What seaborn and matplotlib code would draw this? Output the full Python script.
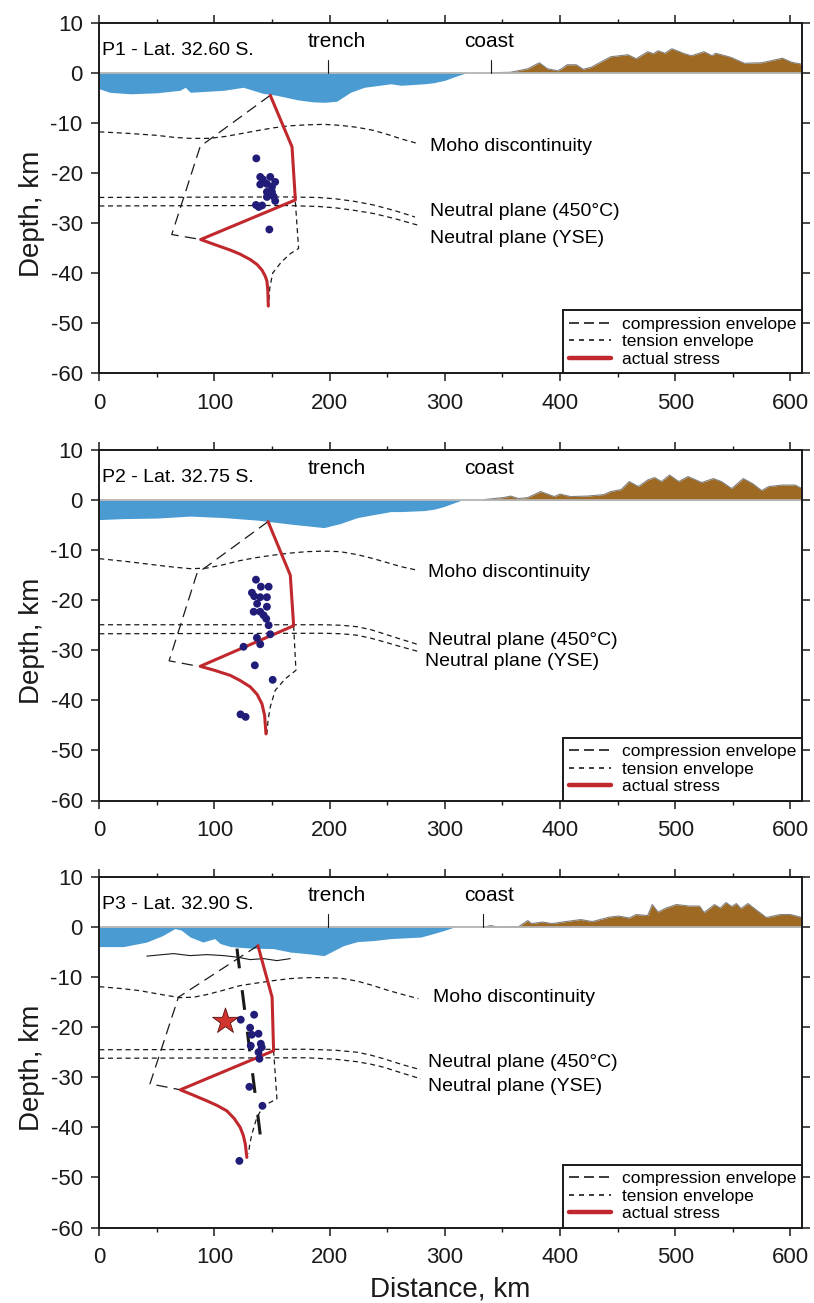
import numpy as np
import pandas as pd
import matplotlib
matplotlib.use("Agg")
import matplotlib.pyplot as plt
from matplotlib.lines import Line2D
from matplotlib.ticker import MultipleLocator
import seaborn as sns

# ---------------- profile P1 ----------------
P1_TITLE = "P1 - Lat. 32.60 S."
P1_SEA_KM = [0, 9, 27, 50, 70, 74.6, 79, 108, 125, 142, 154, 172, 185, 195, 206, 212, 218,
             230, 253, 262, 282, 290, 300, 307, 312, 319]
P1_SEA_Z = [-3.2, -3.9, -4.2, -4.0, -3.5, -2.9, -3.9, -3.5, -2.9, -4.1, -4.5, -5.4, -5.8, -5.9,
            -5.7, -4.8, -3.9, -2.9, -2.2, -2.5, -2.2, -2.0, -1.5, -0.9, -0.5, 0]
P1_LAND_KM = [340, 357, 372, 382, 389, 398, 402, 406, 414, 420, 427, 435, 444, 459, 466, 476,
              481, 485, 491, 497, 508, 514, 525, 532, 535, 548, 560, 575, 583, 593, 601, 610]
P1_LAND_H = [0, 0.1, 0.8, 2.0, 0.8, 0.4, 0.9, 1.6, 1.6, 0.7, 1.1, 2.1, 3.2, 3.6, 2.8, 4.2,
             3.8, 4.4, 3.9, 4.8, 3.8, 3.4, 4.2, 3.4, 3.9, 3.1, 1.9, 2.0, 2.4, 2.9, 2.1, 1.7]
P1_MOHO_KM = [0, 25, 50, 65, 79, 96, 110, 122, 136, 151, 165, 180, 195, 209, 224, 238, 250,
              262, 276]
P1_MOHO_Z = [-11.8, -12.1, -12.5, -12.9, -13.1, -13.1, -12.7, -12.2, -11.6, -11.0, -10.6,
             -10.4, -10.3, -10.5, -10.9, -11.5, -12.3, -13.2, -14.1]
P1_NP450_KM = [0, 160, 190, 206, 222, 238, 256, 274]
P1_NP450_Z = [-24.9, -24.8, -24.9, -25.2, -25.7, -26.4, -27.5, -28.8]
P1_NPYSE_KM = [0, 160, 190, 206, 222, 238, 256, 276]
P1_NPYSE_Z = [-26.6, -26.5, -26.7, -27.0, -27.5, -28.1, -29.1, -30.4]
P1_COMP_KM = [148.4, 87.6, 62.9, 88.0]
P1_COMP_Z = [-4.5, -14.7, -32.3, -33.3]
P1_TENS_KM = [170.2, 173.0, 166.0, 158.0, 150.5, 148.0, 147.0]
P1_TENS_Z = [-25.8, -35.1, -36.1, -37.8, -40.0, -43.0, -46.4]
P1_STRESS_KM = [148.4, 167.3, 170.2, 88.0, 100.0, 113.6, 122.0, 131.0, 137.0, 141.2, 144.0,
                145.5, 146.3, 146.7]
P1_STRESS_Z = [-4.5, -14.8, -25.4, -33.3, -34.3, -35.4, -36.2, -37.3, -38.3, -39.4, -40.6,
               -41.6, -43.5, -46.6]
P1_EQ_KM = [136.3, 139.7, 148.4, 142.0, 152.7, 139.7, 145.5, 149.9, 145.5, 149.9, 145.5,
            151.3, 152.7, 136.0, 138.4, 141.3, 147.6]
P1_EQ_Z = [-17.1, -20.8, -20.8, -21.3, -21.8, -22.3, -22.2, -22.8, -23.8, -23.8, -24.8,
           -24.7, -25.6, -26.4, -26.8, -26.5, -31.3]
P1_TRENCH_TICK = 198.3
P1_COAST_TICK = 340.0
P1_LABEL_KM = [287, 287, 287]
P1_LABEL_Z = [-14.8, -27.8, -33.0]

# ---------------- profile P2 ----------------
P2_TITLE = "P2 - Lat. 32.75 S."
P2_SEA_KM = [0, 21, 50, 79, 108, 137, 166, 195, 209, 224, 253, 262, 282, 291, 299, 311, 315]
P2_SEA_Z = [-3.9, -3.7, -3.6, -3.2, -3.5, -4.0, -4.8, -5.5, -4.7, -3.5, -2.3, -2.3, -2.1,
            -1.8, -1.3, -0.3, 0]
P2_LAND_KM = [334, 351, 357, 364, 372, 383, 395, 400, 409, 424, 438, 444, 453, 460, 468, 476,
              482, 488, 495, 503, 511, 523, 533, 540, 549, 559, 567, 575, 581, 593, 604, 610]
P2_LAND_H = [0.1, 0.5, 0.8, 0.3, 0.5, 1.7, 0.7, 1.2, 0.7, 0.8, 1.1, 1.7, 2.1, 3.7, 2.7, 4.0,
             4.5, 3.7, 5.0, 3.7, 4.7, 3.5, 4.3, 3.7, 2.3, 4.3, 3.3, 1.9, 2.7, 3.0, 3.0, 2.3]
P2_MOHO_KM = [0, 25, 50, 65, 79, 93, 108, 122, 136, 151, 165, 180, 195, 209, 224, 238, 250,
              262, 276]
P2_MOHO_Z = [-11.7, -12.3, -13.0, -13.4, -13.7, -13.6, -12.9, -12.1, -11.5, -11.0, -10.6,
             -10.3, -10.2, -10.3, -10.9, -11.7, -12.5, -13.3, -14.0]
P2_NP450_KM = [0, 195, 210, 224, 236, 247, 262, 276]
P2_NP450_Z = [-24.9, -24.9, -25.0, -25.3, -25.9, -26.7, -27.8, -28.8]
P2_NPYSE_KM = [0, 195, 210, 224, 236, 247, 262, 278]
P2_NPYSE_Z = [-26.7, -26.6, -26.7, -27.0, -27.6, -28.3, -29.3, -30.3]
P2_COMP_KM = [146.5, 84.7, 60.6, 86.0]
P2_COMP_Z = [-4.3, -14.7, -32.1, -33.2]
P2_TENS_KM = [168.7, 170.7, 161.4, 152.7, 148.4, 146.5, 145.5]
P2_TENS_Z = [-25.1, -34.0, -35.7, -38.0, -41.3, -44.0, -46.7]
P2_STRESS_KM = [146.5, 165.8, 168.7, 87.6, 100.0, 113.6, 122.0, 131.0, 137.0, 141.2, 143.5,
                144.7]
P2_STRESS_Z = [-4.3, -15.0, -25.1, -33.2, -34.0, -35.0, -36.0, -37.3, -38.8, -40.7, -43.0,
               -46.7]
P2_EQ_KM = [136.0, 140.3, 147.0, 132.5, 134.5, 139.7, 145.5, 137.0, 145.5, 134.0, 139.7,
            142.6, 144.9, 147.0, 148.4, 136.8, 139.7, 125.2, 135.0, 150.5, 122.6, 127.0]
P2_EQ_Z = [-15.9, -17.3, -17.3, -18.5, -19.2, -19.4, -19.4, -20.7, -21.3, -22.3, -22.3,
           -23.0, -23.7, -25.0, -26.8, -27.5, -28.8, -29.3, -33.0, -35.9, -42.8, -43.3]
P2_LABEL_KM = [285, 285, 283]
P2_LABEL_Z = [-14.5, -28.0, -32.2]

# ---------------- profile P3 ----------------
P3_TITLE = "P3 - Lat. 32.90 S."
P3_SEA_KM = [0, 21, 41, 55, 65.6, 71, 79, 90, 100, 105, 114, 131, 151, 166, 180, 195, 201,
             212, 224, 238, 253, 279, 290, 299, 308]
P3_SEA_Z = [-3.9, -3.9, -3.0, -1.7, -0.3, -0.6, -2.0, -3.0, -2.3, -3.3, -3.9, -4.2, -4.3,
            -5.0, -5.3, -5.7, -5.0, -3.7, -2.9, -2.7, -2.3, -2.0, -1.3, -0.7, 0]
P3_LAND_KM = [334, 340, 346, 364, 372, 375, 385, 393, 405, 418, 428, 443, 451, 460, 466, 476,
              480, 485, 492, 501, 512, 521, 525, 534, 539, 544, 549, 553, 557, 563, 579, 591,
              600, 610]
P3_LAND_H = [0, 0.3, 0, 0.1, 1.3, 0.7, 1.0, 0.7, 1.1, 1.5, 1.1, 2.0, 2.2, 1.8, 2.5, 2.3,
             4.5, 3.0, 3.8, 4.5, 4.2, 4.2, 2.9, 4.5, 3.8, 4.9, 4.1, 4.7, 3.7, 4.7, 1.9, 2.5,
             2.5, 1.9]
P3_MOHO_KM = [0, 20, 35, 52, 70, 82, 93, 108, 122, 136, 151, 165, 180, 195, 209, 224, 238,
              250, 264, 277]
P3_MOHO_Z = [-11.9, -12.3, -12.7, -13.4, -14.1, -14.0, -13.5, -12.6, -11.7, -11.2, -10.7,
             -10.3, -10.1, -10.1, -10.2, -10.8, -11.7, -12.6, -13.5, -14.3]
P3_NP450_KM = [0, 180, 205, 224, 236, 247, 262, 279]
P3_NP450_Z = [-24.5, -24.4, -24.6, -25.0, -25.6, -26.3, -27.4, -28.5]
P3_NPYSE_KM = [0, 180, 205, 224, 236, 247, 262, 279]
P3_NPYSE_Z = [-26.2, -26.1, -26.4, -26.9, -27.4, -28.0, -29.1, -30.3]
P3_COMP_KM = [137.7, 68.7, 44.0, 70.3]
P3_COMP_Z = [-3.7, -14.0, -31.3, -32.5]
P3_TENS_KM = [151.3, 154.2, 142.6, 136.8, 132.5, 130.5, 129.6]
P3_TENS_Z = [-24.7, -34.3, -35.7, -38.0, -41.3, -43.5, -45.3]
P3_STRESS_KM = [137.7, 150.0, 151.3, 70.3, 82.0, 93.3, 102.0, 110.7, 117.0, 122.3, 125.0,
                126.7, 128.1]
P3_STRESS_Z = [-3.7, -14.0, -24.7, -32.5, -33.6, -34.7, -35.6, -36.7, -38.2, -40.0, -41.6,
               -43.3, -46.0]
P3_EQ_KM = [122.8, 134.4, 130.9, 132.3, 138.2, 131.5, 140.2, 141.0, 138.2, 139.0, 130.3,
            141.6, 121.6]
P3_EQ_Z = [-18.5, -17.5, -20.1, -21.5, -21.3, -23.7, -23.3, -24.0, -25.0, -26.3, -31.9,
           -35.7, -46.7]
P3_SLAB_KM = [119.5, 140.0]
P3_SLAB_Z = [-4.3, -42.0]
P3_FAULT_KM = [41.2, 64.4, 78.9, 93.4, 107.9, 119.5, 131.0, 142.6, 154.2, 165.8]
P3_FAULT_Z = [-5.8, -5.3, -5.7, -5.5, -5.7, -6.0, -6.5, -6.3, -6.7, -6.3]
P3_MAINSHOCK_KM = [109.3]
P3_MAINSHOCK_Z = [-18.7]
P3_TRENCH_TICK = 198.3
P3_COAST_TICK = 333.4
P3_LABEL_KM = [290, 285, 285]
P3_LABEL_Z = [-14.0, -27.0, -31.9]

TRENCH_KM = 206
COAST_KM = 338
FEATURE_LABELS = ["Moho discontinuity", "Neutral plane (450\u00b0C)", "Neutral plane (YSE)"]
LEGEND_LABELS = ["compression envelope", "tension envelope", "actual stress"]
X_TICKS = [0, 100, 200, 300, 400, 500, 600]
Y_TICKS = [-60, -50, -40, -30, -20, -10, 0, 10]

SEA = "#4b9bd3"
LAND = "#9e6a23"
STRESS = "#c0282d"
QUAKE = "#201c78"
SHORT_DASH = (0, (4, 3))
LONG_DASH = (0, (9, 5))

sns.set_theme(style="ticks")
plt.rcParams["font.family"] = ["Liberation Sans", "DejaVu Sans"]
plt.rcParams["axes.unicode_minus"] = False
plt.rcParams["axes.linewidth"] = 1.4
for key in ("text.color", "axes.labelcolor", "xtick.color", "ytick.color", "axes.edgecolor"):
    plt.rcParams[key] = "black"

panels = [
    dict(title=P1_TITLE, sea=(P1_SEA_KM, P1_SEA_Z), land=(P1_LAND_KM, P1_LAND_H),
         moho=(P1_MOHO_KM, P1_MOHO_Z), np450=(P1_NP450_KM, P1_NP450_Z),
         npyse=(P1_NPYSE_KM, P1_NPYSE_Z), comp=(P1_COMP_KM, P1_COMP_Z),
         tens=(P1_TENS_KM, P1_TENS_Z), stress=(P1_STRESS_KM, P1_STRESS_Z),
         eq=(P1_EQ_KM, P1_EQ_Z), ticks=(P1_TRENCH_TICK, P1_COAST_TICK),
         labels=(P1_LABEL_KM, P1_LABEL_Z)),
    dict(title=P2_TITLE, sea=(P2_SEA_KM, P2_SEA_Z), land=(P2_LAND_KM, P2_LAND_H),
         moho=(P2_MOHO_KM, P2_MOHO_Z), np450=(P2_NP450_KM, P2_NP450_Z),
         npyse=(P2_NPYSE_KM, P2_NPYSE_Z), comp=(P2_COMP_KM, P2_COMP_Z),
         tens=(P2_TENS_KM, P2_TENS_Z), stress=(P2_STRESS_KM, P2_STRESS_Z),
         eq=(P2_EQ_KM, P2_EQ_Z), ticks=None, labels=(P2_LABEL_KM, P2_LABEL_Z)),
    dict(title=P3_TITLE, sea=(P3_SEA_KM, P3_SEA_Z), land=(P3_LAND_KM, P3_LAND_H),
         moho=(P3_MOHO_KM, P3_MOHO_Z), np450=(P3_NP450_KM, P3_NP450_Z),
         npyse=(P3_NPYSE_KM, P3_NPYSE_Z), comp=(P3_COMP_KM, P3_COMP_Z),
         tens=(P3_TENS_KM, P3_TENS_Z), stress=(P3_STRESS_KM, P3_STRESS_Z),
         eq=(P3_EQ_KM, P3_EQ_Z), ticks=(P3_TRENCH_TICK, P3_COAST_TICK),
         labels=(P3_LABEL_KM, P3_LABEL_Z)),
]

fig = plt.figure(figsize=(8.14, 13.03), dpi=100)
W, H = 814, 1303
ax_left, ax_right = 99.3, 802.0
ax_tops = [22.7, 450.0, 877.0]
ax_h = 350.5


def line(ax, xy, **kw):
    df = pd.DataFrame({"km": xy[0], "z": xy[1]})
    sns.lineplot(data=df, x="km", y="z", ax=ax, sort=False, estimator=None, **kw)


for i, p in enumerate(panels):
    top = ax_tops[i]
    ax = fig.add_axes([ax_left / W, 1 - (top + ax_h) / H, (ax_right - ax_left) / W, ax_h / H])

    # sea and land
    ax.fill_between(p["sea"][0], p["sea"][1], 0, color=SEA, lw=0, zorder=1)
    ax.fill_between(p["land"][0], 0, p["land"][1], color=LAND, lw=0, zorder=1)
    line(ax, p["land"], color="#808080", lw=0.8, zorder=2)
    ax.axhline(0, color="#b4b4b4", lw=1.3, zorder=2)

    # interfaces
    for key in ("moho", "np450", "npyse"):
        line(ax, p[key], color="k", lw=0.9, linestyle=SHORT_DASH, zorder=3)

    # strength envelopes and stress profile
    line(ax, p["comp"], color="k", lw=0.9, linestyle=LONG_DASH, zorder=3)
    line(ax, p["tens"], color="k", lw=0.9, linestyle=SHORT_DASH, zorder=3)
    line(ax, p["stress"], color=STRESS, lw=2.2, zorder=4)

    if i == 2:
        line(ax, (P3_FAULT_KM, P3_FAULT_Z), color="k", lw=0.8, zorder=3)
        line(ax, (P3_SLAB_KM, P3_SLAB_Z), color="k", lw=2.2,
             linestyle=(0, (6.5, 7.2)), zorder=3)

    sns.scatterplot(x=p["eq"][0], y=p["eq"][1], ax=ax, s=32, color=QUAKE,
                    edgecolor="none", zorder=5)
    if i == 2:
        sns.scatterplot(x=P3_MAINSHOCK_KM, y=P3_MAINSHOCK_Z, ax=ax, marker="*", s=380,
                        color="#d0342c", edgecolor="#5a1010", linewidth=0.6, zorder=6)

    # annotations
    ax.text(2, 3.6, p["title"], fontsize=14, ha="left", va="baseline", zorder=6)
    ax.text(TRENCH_KM, 5.2, "trench", fontsize=15, ha="center", va="baseline")
    ax.text(COAST_KM, 5.2, "coast", fontsize=15, ha="center", va="baseline")
    if p["ticks"] is not None:
        for t in p["ticks"]:
            ax.plot([t, t], [0, 2.6], color="k", lw=0.8, zorder=3)
    for txt, lx, lz in zip(FEATURE_LABELS, p["labels"][0], p["labels"][1]):
        ax.text(lx, lz, txt, fontsize=14, ha="left", va="center")

    # legend
    handles = [Line2D([], [], color="k", lw=1.2, linestyle=(0, (6, 3))),
               Line2D([], [], color="k", lw=1.2, linestyle=(0, (3, 3))),
               Line2D([], [], color=STRESS, lw=3.2)]
    leg = ax.legend(handles, LEGEND_LABELS, loc="lower right", bbox_to_anchor=(1, 0),
                    borderaxespad=0, frameon=True, fancybox=False, fontsize=12.5,
                    handlelength=2.4, handletextpad=0.6, labelspacing=0.15,
                    borderpad=0.35)
    fr = leg.get_frame()
    fr.set_edgecolor("k")
    fr.set_linewidth(1.4)
    fr.set_alpha(1)
    leg.set_zorder(10)

    # axes frame
    ax.set_xlim(0, 610)
    ax.set_ylim(-60, 10)
    ax.set_xticks(X_TICKS)
    ax.set_yticks(Y_TICKS)
    ax.xaxis.set_minor_locator(MultipleLocator(50))
    ax.tick_params(which="major", direction="out", length=6, width=1.1, color="k",
                   labelcolor="k", top=True, right=True, labeltop=False, labelright=False,
                   labelsize=16)
    ax.tick_params(which="minor", direction="out", length=3, width=1.0, color="k",
                   top=True, bottom=True, left=False, right=False)
    ax.tick_params(axis="x", pad=8)
    ax.tick_params(axis="y", pad=6)
    for s in ax.spines.values():
        s.set_visible(True)
        s.set_color("k")
        s.set_linewidth(1.4)
    ax.set_xlabel("")
    ax.set_ylabel("Depth, km", fontsize=20, color="k")
    ax.yaxis.set_label_coords(-0.077, 0.456)
    ax.set_facecolor("white")

ax.set_xlabel("Distance, km", fontsize=20, color="k")
ax.xaxis.set_label_coords(0.499, -0.14)

fig.savefig("out.png", dpi=100, facecolor="white")
